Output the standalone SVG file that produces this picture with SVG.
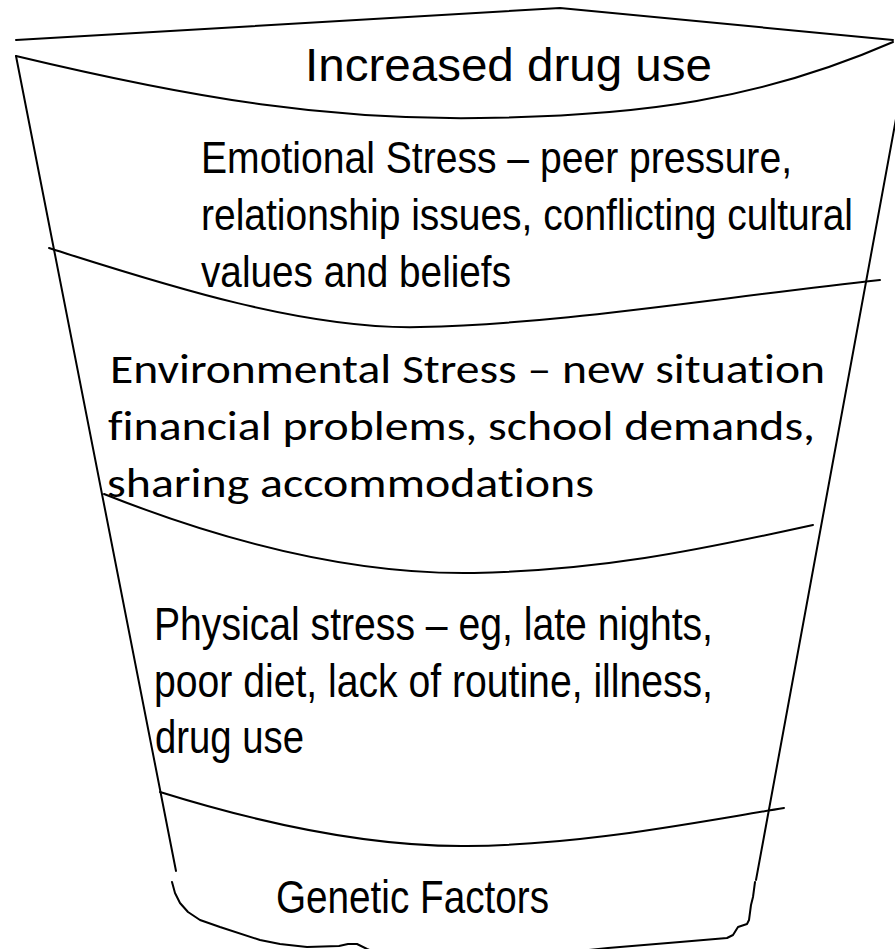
<svg xmlns="http://www.w3.org/2000/svg" width="895" height="949" viewBox="0 0 895 949">
  <style>
    .ink { fill: none; stroke: #000; stroke-width: 2; stroke-linejoin: round; stroke-linecap: round; }
    .arial { font-family: "Liberation Sans", Arial, sans-serif; fill: #000; }
    .narrow { font-family: "Liberation Sans Narrow", "Liberation Sans", Arial, sans-serif; fill: #000; }
    .calibri { font-family: Carlito, Lato, "Open Sans", sans-serif; fill: #000; font-variant-ligatures: none; }
  </style>
  <rect width="895" height="949" fill="#fff"/>

  <!-- cup outline: rim, sides and wobbly base -->
  <g id="cup-outline" class="ink">
    <polyline points="16,40 560,8 893,40"/>
    <path d="M16,56 C200,100 330,120 480,118 C640,116 760,100 893,42"/>
    <line x1="16" y1="56" x2="176" y2="871"/>
    <path d="M172,882 L175,893 L180,903 L188,912 L200,920 L220,927 L260,940 L280,944 L307,947 L339,946 L348,944 L357,944 L367,949 L380,954"/>
    <line x1="898" y1="108" x2="756" y2="880"/>
    <path d="M755,882 L753,897 L751,905 L749,920 L747,924 L738,927 L733,935 L727,938 L680,942 L608,948 L560,953"/>
  </g>

  <!-- dividers between the layers -->
  <g id="layer-dividers" class="ink">
    <path d="M49,248 C150,280 300,330 420,327 C560,324 700,300 880,280"/>
    <path d="M104,494 C220,540 350,575 474,573 C600,570 690,552 813,525"/>
    <path d="M160,792 C250,820 360,847 467,846 C580,845 680,825 784,808"/>
  </g>

  <g id="layer-top">
    <text class="arial" x="305" y="81" font-size="47" textLength="407" lengthAdjust="spacingAndGlyphs">Increased drug use</text>
  </g>

  <g id="layer-emotional" class="narrow" font-size="45">
    <text x="201" y="173" textLength="591" lengthAdjust="spacingAndGlyphs">Emotional Stress – peer pressure,</text>
    <text x="201" y="230" textLength="652" lengthAdjust="spacingAndGlyphs">relationship issues, conflicting cultural</text>
    <text x="201" y="287" textLength="310" lengthAdjust="spacingAndGlyphs">values and beliefs</text>
  </g>

  <g id="layer-environmental" class="calibri" font-size="42">
    <text x="110" y="383" textLength="715" lengthAdjust="spacingAndGlyphs">Environmental Stress – new situation</text>
    <text x="108" y="440" textLength="707" lengthAdjust="spacingAndGlyphs">financial problems, school demands,</text>
    <text x="107" y="497" textLength="487" lengthAdjust="spacingAndGlyphs">sharing accommodations</text>
  </g>

  <g id="layer-physical" class="narrow" font-size="47">
    <text x="154" y="640" textLength="559" lengthAdjust="spacingAndGlyphs">Physical stress – eg, late nights,</text>
    <text x="154" y="697" textLength="559" lengthAdjust="spacingAndGlyphs">poor diet, lack of routine, illness,</text>
    <text x="155" y="753" textLength="149" lengthAdjust="spacingAndGlyphs">drug use</text>
  </g>

  <g id="layer-genetic" class="narrow" font-size="47">
    <text x="276" y="913" textLength="273" lengthAdjust="spacingAndGlyphs">Genetic Factors</text>
  </g>
</svg>
